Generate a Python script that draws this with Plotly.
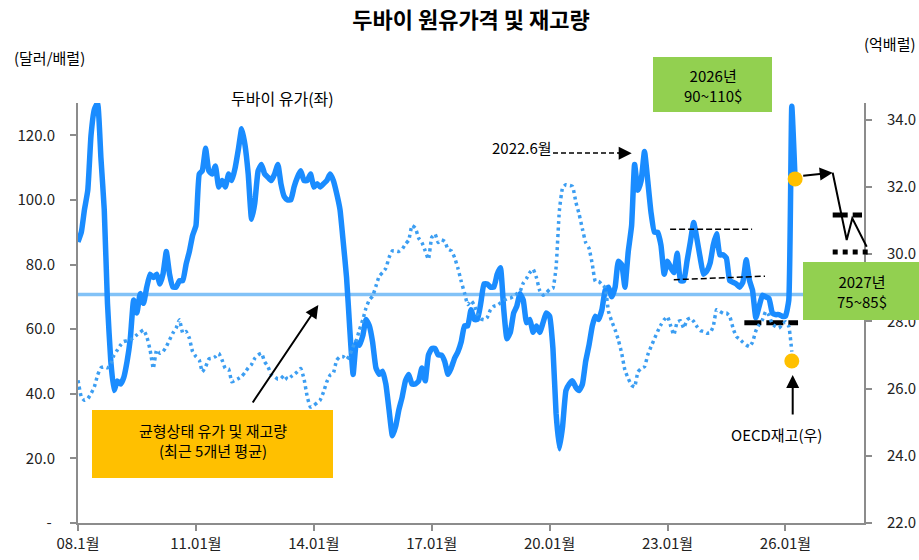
import pandas as pd
import plotly.graph_objects as go

# ---------------- data ----------------
dubai_price = [
    87, 90, 97, 103, 120, 128, 130, 113, 97, 68, 50, 41,            # 2008
    44, 43, 45, 50, 57, 69, 65, 71, 68, 73, 77, 76,                 # 2009
    77, 74, 77, 84, 77, 73, 73, 75, 75, 80, 84, 89,                 # 2010
    92, 108, 109, 116, 109, 108, 110.5, 104, 106, 104, 108, 106,    # 2011
    110, 116, 122, 117, 108, 94, 99, 109, 111, 108, 107, 106,       # 2012
    108, 111, 105, 101, 100, 100, 104, 107, 109, 106, 106, 108,     # 2013
    104, 105, 104, 105, 106, 108, 106, 102, 97, 87, 76, 60,         # 2014
    46, 56, 55, 58, 63, 61, 56, 48, 46, 47, 43, 35,                 # 2015
    27, 30, 35, 39, 44, 46, 43, 43, 44, 48, 44, 52,                 # 2016
    54, 54, 52, 52, 50, 46, 48, 51, 53, 56, 61, 61,                 # 2017
    66, 63, 63, 68, 74, 74, 73, 73, 77, 79, 66, 57,                 # 2018
    59, 65, 67, 71, 69, 62, 63, 59, 61, 59, 62, 65,                 # 2019
    64, 54, 34, 23, 30, 41, 43, 44, 42, 41, 43, 50,                 # 2020
    55, 61, 64, 63, 66, 72, 73, 70, 73, 81, 80, 73,                 # 2021
    84, 92, 111, 103, 106, 115, 106, 96, 90, 90, 86, 77,            # 2022
    81, 79, 77.5, 83.5, 75, 75, 81, 87, 93, 88, 82, 77,             # 2023
    78, 80.5, 86, 89.5, 83, 83, 82, 75, 74.5, 74, 73, 74.5,         # 2024
    81.5, 75, 72, 63.5, 67, 70.5, 70, 69.5, 65, 64.5, 64.5, 64,     # 2025
    64, 69, 129, 106,                                               # 2026
]

oecd_stock = [
    26.25, 25.75, 25.65, 25.70, 25.85, 26.05, 26.40, 26.62, 26.65, 26.62, 26.75, 27.00,  # 2008
    27.15, 27.30, 27.40, 27.42, 27.45, 27.52, 27.60, 27.68, 27.75, 27.55, 27.15, 26.60,  # 2009
    27.15, 27.05, 27.10, 27.25, 27.45, 27.65, 27.80, 28.05, 27.65, 27.70, 27.50, 27.10,  # 2010
    26.95, 26.85, 26.50, 26.65, 26.88, 26.90, 26.95, 27.05, 26.85, 26.60, 26.58, 26.20,  # 2011
    26.25, 26.30, 26.36, 26.48, 26.62, 26.72, 26.90, 27.00, 27.05, 26.80, 26.65, 26.42,  # 2012
    26.35, 26.28, 26.30, 26.40, 26.27, 26.35, 26.42, 26.50, 26.60, 26.30, 25.75, 25.45,  # 2013
    25.50, 25.58, 25.66, 25.90, 26.20, 26.40, 26.46, 26.85, 26.95, 26.95, 26.86, 27.00,  # 2014
    27.25, 27.45, 27.75, 28.05, 28.40, 28.64, 28.75, 29.05, 29.35, 29.45, 29.58, 29.90,  # 2015
    30.10, 30.10, 30.08, 30.15, 30.30, 30.42, 30.85, 30.78, 30.48, 30.35, 30.10, 29.85,  # 2016
    30.50, 30.60, 30.35, 30.43, 30.38, 30.15, 30.10, 29.90, 29.58, 29.20, 28.85, 28.50,  # 2017
    28.62, 28.48, 28.22, 28.08, 28.05, 28.12, 28.35, 28.45, 28.48, 28.55, 28.62, 28.67,  # 2018
    28.69, 28.75, 28.82, 28.89, 29.14, 29.28, 29.45, 29.55, 29.30, 28.92, 28.78, 28.85,  # 2019
    28.95, 28.99, 29.60, 31.30, 31.98, 32.07, 32.05, 32.02, 31.55, 31.20, 30.75, 30.35,  # 2020
    30.18, 29.70, 29.19, 29.19, 29.10, 29.00, 28.30, 28.00, 27.75, 27.45, 27.05, 26.55,  # 2021
    26.30, 26.10, 26.05, 26.50, 26.60, 26.65, 27.00, 27.25, 27.48, 27.70, 27.90, 28.05,  # 2022
    28.14, 27.85, 27.60, 27.98, 28.02, 27.80, 28.05, 28.10, 28.00, 27.85, 27.73, 27.70,  # 2023
    27.65, 27.66, 27.85, 28.35, 28.30, 28.24, 28.25, 28.15, 27.80, 27.55, 27.47, 27.38,  # 2024
    27.30, 27.25, 27.38, 27.72, 27.90, 28.05, 28.29, 28.18, 27.92, 27.85, 27.80, 27.90,  # 2025
    27.99, 27.85, 27.10,                                                                # 2026
]

equilibrium_price = 70.7            # 균형상태 유가 (최근 5개년 평균)
equilibrium_dates = ["2008-01-01", "2028-01-01"]

band_upper_dates = ["2023-01-25", "2025-02-25"]
band_upper_values = [90.9, 90.9]
band_lower_dates = ["2023-02-28", "2025-06-25"]
band_lower_values = [75.3, 76.4]
low_level_dates = ["2024-12-15", "2026-04-28"]
low_level_values = [62.0, 62.0]

marker_price_date = ["2026-04-01"]
marker_price_value = [106.5]
marker_stock_date = ["2026-03-01"]
marker_stock_value = [26.82]

x_tick_dates = ["2008-01-01", "2011-01-01", "2014-01-01", "2017-01-01",
                "2020-01-01", "2023-01-01", "2026-01-01"]
x_tick_text = ["08.1월", "11.01월", "14.01월", "17.01월", "20.01월", "23.01월", "26.01월"]
left_tick_vals = [0, 20, 40, 60, 80, 100, 120]
left_tick_text = ["-\u00a0", "20.0", "40.0", "60.0", "80.0", "100.0", "120.0"]
right_tick_vals = [22, 24, 26, 28, 30, 32, 34]

price_dates = pd.date_range("2008-01-01", periods=len(dubai_price), freq="MS")
stock_dates = pd.date_range("2008-01-01", periods=len(oecd_stock), freq="MS")

# ---------------- layout helpers ----------------
W, H = 919, 560
L, R, T, B = 78, 864, 103, 523
FONT = "Noto Sans CJK KR"


def px(x):
    return (x - L) / (R - L)


def py(y):
    return (B - y) / (B - T)


fig = go.Figure()

fig.add_trace(go.Scatter(
    x=equilibrium_dates, y=[equilibrium_price] * len(equilibrium_dates),
    mode="lines", line=dict(color="#82C2F7", width=3.5), hoverinfo="skip"))

fig.add_trace(go.Scatter(
    x=stock_dates, y=oecd_stock, yaxis="y2", mode="lines",
    line=dict(color="#3C9EF2", width=3.5, dash="3px,3.5px", shape="spline", smoothing=0.4)))

fig.add_trace(go.Scatter(
    x=price_dates, y=dubai_price, mode="lines",
    line=dict(color="#1A8CFF", width=5.5, shape="spline", smoothing=0.4)))

for xs, ys in [(band_upper_dates, band_upper_values), (band_lower_dates, band_lower_values)]:
    fig.add_trace(go.Scatter(x=xs, y=ys, mode="lines",
                             line=dict(color="black", width=1.5, dash="6px,3px")))
fig.add_trace(go.Scatter(x=low_level_dates, y=low_level_values, mode="lines",
                         line=dict(color="black", width=5, dash="17px,5px")))

fig.add_trace(go.Scatter(x=marker_price_date, y=marker_price_value, mode="markers",
                         marker=dict(color="#FFC000", size=15)))
fig.add_trace(go.Scatter(x=marker_stock_date, y=marker_stock_value, yaxis="y2", mode="markers",
                         marker=dict(color="#FFC000", size=15)))

shapes = [
    dict(type="rect", xref="paper", yref="paper", x0=px(92), x1=px(333), y0=py(478), y1=py(410),
         fillcolor="#FFC000", line=dict(width=0), layer="above"),
    dict(type="rect", xref="paper", yref="paper", x0=px(653), x1=px(772), y0=py(112), y1=py(57),
         fillcolor="#92D050", line=dict(width=0), layer="above"),
    dict(type="rect", xref="paper", yref="paper", x0=px(803), x1=px(921), y0=py(320), y1=py(262),
         fillcolor="#92D050", line=dict(width=0), layer="above"),
    dict(type="line", xref="paper", yref="paper", x0=px(553), x1=px(622), y0=py(153), y1=py(153),
         line=dict(color="black", width=1.5, dash="5px,3px")),
    dict(type="path", xref="paper", yref="paper",
         path="M {} {} L {} {} L {} {} L {} {}".format(px(832.7), py(172.7), px(846.7), py(240),
                                                      px(852.3), py(218.3), px(866.7), py(246.7)),
         line=dict(color="black", width=2)),
    dict(type="line", xref="paper", yref="paper", x0=px(832.7), x1=px(862), y0=py(215), y1=py(215),
         line=dict(color="black", width=5, dash="15px,5px")),
    dict(type="line", xref="paper", yref="paper", x0=px(832.7), x1=px(870), y0=py(252), y1=py(252),
         line=dict(color="black", width=5, dash="5px,5px")),
]


def txt(text, x, y, size=15, xanchor="center", bold=False):
    return dict(text=("<b>%s</b>" % text) if bold else text, xref="paper", yref="paper",
                x=px(x), y=py(y), xanchor=xanchor, yanchor="middle", showarrow=False,
                font=dict(family=FONT, size=size, color="black"))


def arrow(tip_x, tip_y, tail_x, tail_y, size=1.3):
    return dict(text="", xref="paper", yref="paper", x=px(tip_x), y=py(tip_y),
                ax=tail_x - tip_x, ay=tail_y - tip_y, showarrow=True, arrowhead=2,
                arrowsize=size, arrowwidth=2, arrowcolor="black", standoff=0, startstandoff=0)


annotations = [
    txt("(달러/배럴)", 12, 58, xanchor="left"),
    txt("(억배럴)", 918, 43, xanchor="right"),
    txt("두바이 유가(좌)", 282, 98, size=16),
    txt("2022.6월", 522, 147),
    txt("2026년<br>90~110$", 712.5, 86),
    txt("2027년<br>75~85$", 862, 291),
    txt("균형상태 유가 및 재고량<br>(최근 5개년 평균)", 212.5, 440),
    txt("OECD재고(우)", 776, 434),
    arrow(318.3, 305, 251.7, 404),
    arrow(792.7, 375, 792.7, 416),
    arrow(631.7, 153.3, 617, 153.3),
    arrow(832.7, 172.7, 801.7, 176),
]

axis_common = dict(showline=True, linecolor="#8C8C8C", linewidth=2, ticks="outside",
                   tickcolor="#8C8C8C", ticklen=6, tickwidth=1.5, showgrid=False, zeroline=False,
                   automargin=False, tickfont=dict(family=FONT, size=15, color="#222"))

fig.update_layout(
    width=W, height=H,
    margin=dict(l=L, r=W - R, t=T, b=H - B, autoexpand=False),
    paper_bgcolor="white", plot_bgcolor="white",
    showlegend=False,
    title=dict(text="<b>두바이 원유가격 및 재고량</b>", x=0.5, xref="paper",
               y=1 - 20 / H, yanchor="middle", automargin=False,
               font=dict(family=FONT, size=22, color="black")),
    xaxis=dict(type="date", range=["2008-01-01", "2028-01-01"], tickvals=x_tick_dates,
               ticktext=x_tick_text, **axis_common),
    yaxis=dict(range=[0, 130], tickvals=left_tick_vals, ticktext=left_tick_text,
               ticklabelstandoff=12, **axis_common),
    yaxis2=dict(range=[22, 34.5], tickvals=right_tick_vals, tickformat=".1f", overlaying="y",
                side="right", ticklabelstandoff=12, **axis_common),
    shapes=shapes,
    annotations=annotations,
)

fig.write_html("out.html", config={"displayModeBar": False},
               post_script="document.body.style.margin='0px';")
